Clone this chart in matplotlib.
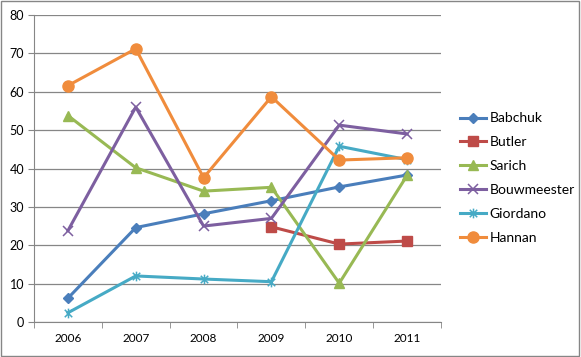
import matplotlib.pyplot as plt
from matplotlib.path import Path
from matplotlib.patches import Rectangle

years = ['2006', '2007', '2008', '2009', '2010', '2011']
babchuk = [6.2, 24.6, 28.2, 31.6, 35.2, 38.3]
butler = [None, None, None, 24.8, 20.3, 21.1]
sarich = [53.8, 40.2, 34.1, 35.1, 10.1, 38.2]
bouwmeester = [23.8, 56.0, 25.0, 27.0, 51.3, 49.0]
giordano = [2.4, 12.0, 11.2, 10.5, 45.8, 42.3]
hannan = [61.6, 71.2, 37.6, 58.7, 42.2, 42.8]

# asterisk marker like Excel's "star"
star = Path([(-1, -1), (1, 1), (-1, 1), (1, -1), (0, -1.3), (0, 1.3)],
            [Path.MOVETO, Path.LINETO, Path.MOVETO, Path.LINETO, Path.MOVETO, Path.LINETO])

series = [
    ('Babchuk', babchuk, '#4A7EBB', 'D', 5.5),
    ('Butler', butler, '#BE4B48', 's', 7),
    ('Sarich', sarich, '#98B954', '^', 7.5),
    ('Bouwmeester', bouwmeester, '#7D5FA0', 'x', 7),
    ('Giordano', giordano, '#46AAC5', star, 7),
    ('Hannan', hannan, '#F08C3C', 'o', 8),
]

plt.rcParams['font.family'] = ['Lato', 'DejaVu Sans']

fig = plt.figure(figsize=(5.81, 3.57), dpi=100)
ax = fig.add_axes([34/581, 1-322/357, 407/581, 307/357])

x = list(range(len(years)))
for name, vals, col, mk, ms in series:
    xs = [i for i, v in zip(x, vals) if v is not None]
    ys = [v for v in vals if v is not None]
    face = 'none' if mk in ('x',) or isinstance(mk, Path) else col
    ax.plot(xs, ys, color=col, lw=2.2, marker=mk, ms=ms, mfc=face, mec=col,
            mew=1.1 if face == 'none' else 1, label=name)

ax.set_xlim(-0.5, 5.5)
ax.set_ylim(0, 80)
ax.set_yticks(range(0, 81, 10))
ax.set_xticks(x)
ax.set_xticklabels(years)
ax.set_xticks([i - 0.5 for i in range(7)], minor=True)
ax.tick_params(axis='x', which='major', length=0, pad=8, labelsize=8.5)
ax.tick_params(axis='x', which='minor', length=4, color='#868686')
ax.tick_params(axis='y', length=4, color='#868686', labelsize=9, pad=3)
ax.yaxis.grid(True, color='#868686', lw=0.9)
ax.set_axisbelow(True)
for s in ['top', 'right']:
    ax.spines[s].set_visible(False)
for s in ['left', 'bottom']:
    ax.spines[s].set_color('#868686')

leg = fig.legend(loc='center left', bbox_to_anchor=(447/581, 1-178/357), frameon=False,
                 fontsize=10, handlelength=1.9, handletextpad=0.25, labelspacing=0.85)

fig.patches.append(Rectangle((0.002, 0.003), 0.995, 0.993, transform=fig.transFigure,
                             fill=False, edgecolor='#868686', lw=1))

plt.savefig('out.png', dpi=100)
plt.close('all')
